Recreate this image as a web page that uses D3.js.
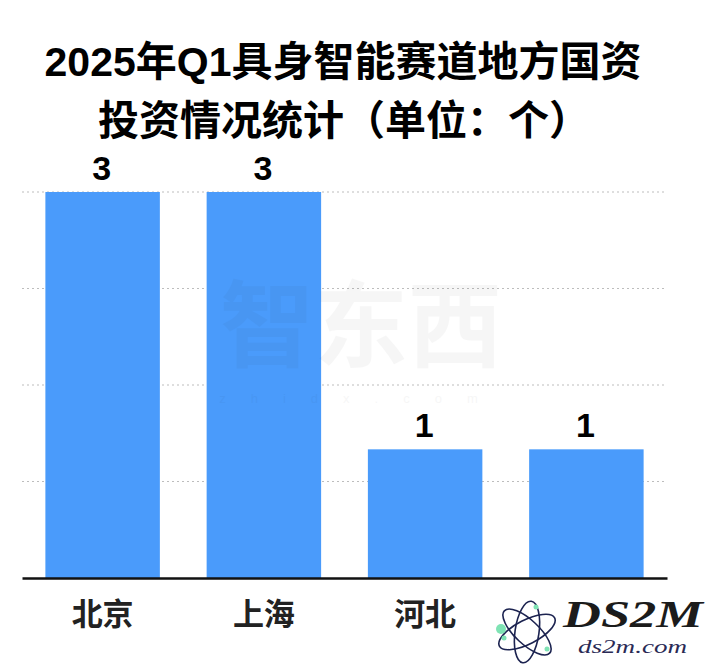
<!DOCTYPE html>
<html lang="zh">
<head>
<meta charset="utf-8">
<title>2025年Q1具身智能赛道地方国资投资情况统计</title>
<style>
  body { margin: 0; padding: 0; background: #fff; }
  svg { display: block; }
  text { font-family: "Liberation Sans", "Noto Sans CJK SC", sans-serif; }
</style>
</head>
<body>
<div id="chart"></div>
<script src="https://d3js.org/d3.v7.min.js"></script>
<script>
var categories = ['北京', '上海', '河北', ''];
var values = [3, 3, 1, 1];
var gridTicks = [0.75, 1.5, 2.25, 3];
var titleLines = ['2025年Q1具身智能赛道地方国资', '投资情况统计（单位：个）'];
var logoDots = [[-26, -3, 5], [-23, 6, 2.5], [9, -25, 2.5], [20, 17, 2.5]];

var width = 720, height = 665;
var svg = d3.select('#chart').append('svg')
  .attr('width', width)
  .attr('height', height);

var x = d3.scaleBand()
  .domain(d3.range(categories.length))
  .range([22, 667])
  .paddingInner(0.29)
  .paddingOuter(0.145);

var y = d3.scaleLinear()
  .domain([0, 3])
  .range([578, 192]);

// title
svg.selectAll('.title')
  .data(titleLines)
  .enter().append('text')
  .attr('class', 'title')
  .attr('x', function(d, i) { return i === 0 ? 343 : 344; })
  .attr('y', function(d, i) { return i === 0 ? 76 : 135; })
  .attr('text-anchor', 'middle')
  .style('font-size', '41px')
  .style('font-weight', 'bold')
  .attr('fill', '#000')
  .text(function(d) { return d; });

// dotted grid
svg.selectAll('.grid')
  .data(gridTicks)
  .enter().append('line')
  .attr('class', 'grid')
  .attr('x1', 22)
  .attr('x2', 667)
  .attr('y1', function(d) { return y(d); })
  .attr('y2', function(d) { return y(d); })
  .attr('stroke', '#bdbdbd')
  .attr('stroke-width', 1.2)
  .attr('stroke-dasharray', '2 3');

// bars
svg.selectAll('.bar')
  .data(values)
  .enter().append('rect')
  .attr('class', 'bar')
  .attr('x', function(d, i) { return x(i); })
  .attr('y', function(d) { return y(d); })
  .attr('width', x.bandwidth())
  .attr('height', function(d) { return y(0) - y(d); })
  .attr('fill', '#4a9bfb');

// baseline and category labels
var axis = svg.append('g')
  .attr('transform', 'translate(0,' + y(0) + ')')
  .call(d3.axisBottom(x).tickSize(0).tickPadding(25).tickFormat(function(d) { return categories[d]; }));
axis.select('.domain').attr('stroke', '#111').attr('stroke-width', 2.5);
axis.selectAll('text')
  .style('font-size', '31px')
  .style('font-weight', '700')
  .style('font-family', '"Noto Sans CJK SC", sans-serif')
  .attr('fill', '#222');

// value labels
svg.selectAll('.value')
  .data(values)
  .enter().append('text')
  .attr('class', 'value')
  .attr('x', function(d, i) { return x(i) + x.bandwidth() / 2 - 1; })
  .attr('y', function(d) { return y(d) - 12.5; })
  .attr('text-anchor', 'middle')
  .style('font-size', '34px')
  .style('font-weight', 'bold')
  .attr('fill', '#000')
  .text(function(d) { return d; });

// watermark sits over everything, very faint
var mark = svg.append('g').attr('opacity', 0.035);
mark.append('text')
  .attr('x', 361).attr('y', 360)
  .attr('text-anchor', 'middle')
  .style('font-size', '94px')
  .style('font-weight', 'bold')
  .style('font-family', '"Noto Sans CJK SC", sans-serif')
  .attr('fill', '#222')
  .text('智东西');
mark.append('text')
  .attr('x', 361).attr('y', 403)
  .attr('text-anchor', 'middle')
  .style('font-size', '13px')
  .style('letter-spacing', '25px')
  .attr('fill', '#222')
  .text('zhidx.com');

// corner logo
var logo = svg.append('g').attr('transform', 'translate(527,632)');
[-35, 35, 90].forEach(function(a) {
  logo.append('ellipse')
    .attr('rx', 31).attr('ry', 12)
    .attr('transform', 'rotate(' + (a + 8) + ')')
    .attr('fill', 'none')
    .attr('stroke', '#1c2350')
    .attr('stroke-width', 1.6);
});
logo.selectAll('circle')
  .data(logoDots)
  .enter().append('circle')
  .attr('cx', function(d) { return d[0]; })
  .attr('cy', function(d) { return d[1]; })
  .attr('r', function(d) { return d[2]; })
  .attr('fill', '#7fe3b4');

svg.append('text')
  .attr('x', 563).attr('y', 627)
  .style('font-family', '"Liberation Serif", serif')
  .style('font-size', '37px')
  .style('font-weight', 'bold')
  .style('font-style', 'italic')
  .attr('fill', '#1b1b1b')
  .attr('textLength', 140)
  .attr('lengthAdjust', 'spacingAndGlyphs')
  .text('DS2M');
svg.append('text')
  .attr('x', 578).attr('y', 653)
  .style('font-family', '"Liberation Serif", serif')
  .style('font-size', '19px')
  .style('font-style', 'italic')
  .attr('fill', '#2a2a55')
  .attr('textLength', 109)
  .attr('lengthAdjust', 'spacingAndGlyphs')
  .text('ds2m.com');
</script>
</body>
</html>
